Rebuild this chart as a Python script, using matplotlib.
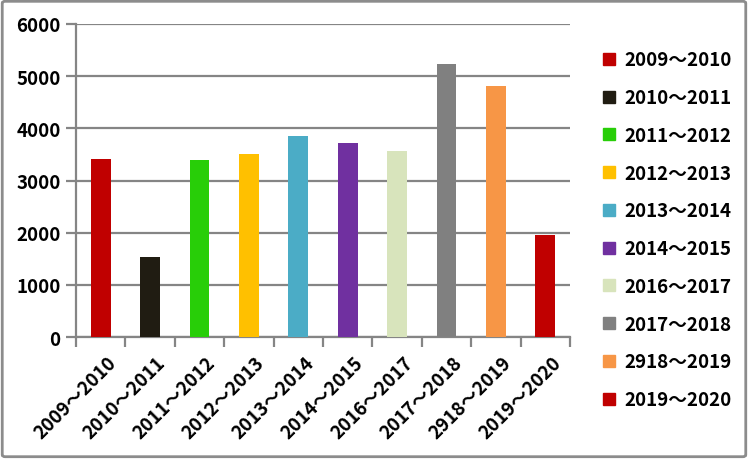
import matplotlib
matplotlib.use("Agg")
import matplotlib.pyplot as plt
from matplotlib.patches import FancyBboxPatch
from matplotlib.lines import Line2D

plt.rcParams['font.family'] = ['Noto Sans CJK JP', 'DejaVu Sans']
plt.rcParams['font.weight'] = 'bold'

# dữ liệu
periods = ['2009～2010', '2010～2011', '2011～2012', '2012～2013', '2013～2014',
           '2014～2015', '2016～2017', '2017～2018', '2918～2019', '2019～2020']
values = [3410, 1530, 3390, 3505, 3850, 3720, 3565, 5230, 4810, 1955]
colors = ['#C00000', '#201C12', '#28CE08', '#FFC000', '#4BACC6',
          '#7030A0', '#D8E4BC', '#808080', '#F79646', '#C00000']
yticks = [0, 1000, 2000, 3000, 4000, 5000, 6000]

fs = 13.5
fig = plt.figure(figsize=(7.48, 4.6), dpi=100, facecolor='white')
ax = fig.add_axes([0.1016, 0.265, 0.6604, 0.6807])

grid_c = '#858585'
ax.set_axisbelow(True)
ax.yaxis.grid(True, color=grid_c, linewidth=1.6)

x = range(len(periods))
ax.bar(x, values, width=0.4, color=colors, zorder=3)

ax.set_xlim(-0.5, len(periods) - 0.5)
ax.set_ylim(0, 6000)
ax.set_yticks(yticks)
ax.set_yticklabels([str(v) for v in yticks], fontsize=fs, fontweight='bold')

# nhãn trục x xoay 45 độ
ax.set_xticks([i + 0.12 for i in x])
ax.set_xticklabels(periods, rotation=45, ha='right', rotation_mode='anchor',
                   fontsize=fs, fontweight='bold')
ax.tick_params(axis='x', length=0, pad=11)
ax.set_xticks([i - 0.5 for i in range(len(periods) + 1)], minor=True)
ax.tick_params(axis='x', which='minor', length=7, width=1.6, color=grid_c)
ax.tick_params(axis='y', length=7, width=1.6, color=grid_c, pad=4)

for s in ['top', 'right']:
    ax.spines[s].set_visible(False)
for s in ['left', 'bottom']:
    ax.spines[s].set_color(grid_c)
    ax.spines[s].set_linewidth(1.6)

# chú giải
handles = [Line2D([], [], marker='s', linestyle='none', markersize=8,
                  markerfacecolor=c, markeredgecolor=c) for c in colors]
fig.legend(handles, periods, loc='upper left', bbox_to_anchor=(0.782, 0.925),
           frameon=False, labelspacing=1.0, handlelength=0.8,
           handletextpad=0.4, prop={'weight': 'bold', 'size': fs})

# khung viền
border = FancyBboxPatch((0.003, 0.005), 0.994, 0.99, boxstyle='round,pad=0,rounding_size=0.004',
                        transform=fig.transFigure, fill=False, edgecolor='#8C8C8C',
                        linewidth=2)
fig.patches.append(border)

fig.savefig('out.png', dpi=100)
